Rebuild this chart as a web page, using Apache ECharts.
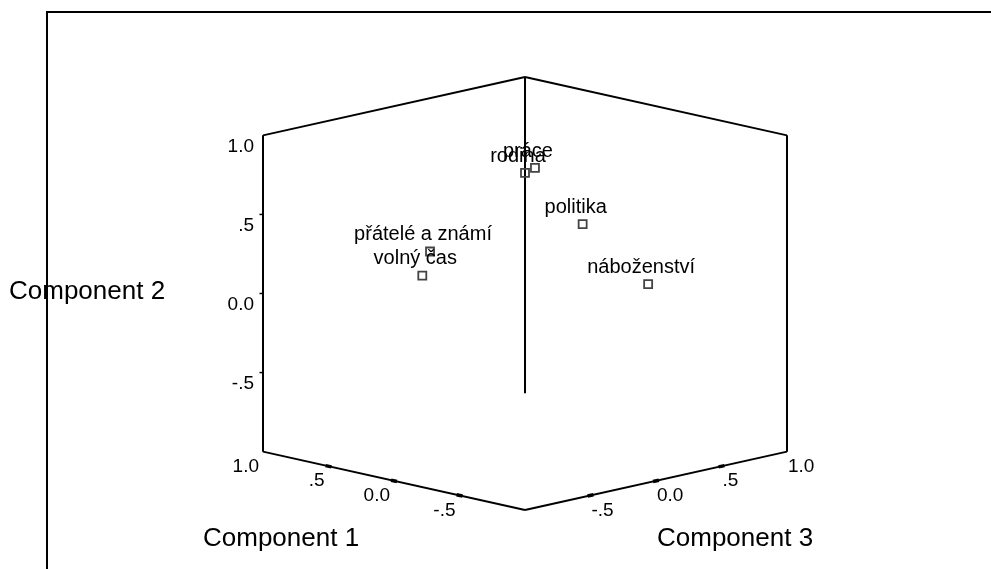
<!DOCTYPE html>
<html><head><meta charset="utf-8">
<style>html,body{margin:0;padding:0;background:#fff}#c{width:991px;height:569px}</style>
<script src="https://cdn.jsdelivr.net/npm/echarts@6/dist/echarts.min.js"></script>
</head><body><div id="c"></div>
<script>
// ---- data (component loadings) ----
const variables  = ['práce', 'rodina', 'přátelé a známí', 'volný čas', 'politika', 'náboženství'];
const component1 = [0.100, 0.150, 0.800, 0.800, 0.160, -0.090];
const component2 = [0.743, 0.707, 0.104, -0.037, 0.299, -0.081];
const component3 = [0.176, 0.150, 0.075, 0.016, 0.600, 0.850];

// ---- axes ----
const axisMin = -1, axisMax = 1;
const tickValues = [-0.5, 0, 0.5];
const c1LabelValues = [1.0, 0.5, 0.0, -0.5];
const c1LabelTexts  = ['1.0', '.5', '0.0', '-.5'];
const c2LabelValues = [1.0, 0.5, 0.0, -0.5];
const c2LabelTexts  = ['1.0', '.5', '0.0', '-.5'];
const c3LabelValues = [-0.5, 0.0, 0.5, 1.0];
const c3LabelTexts  = ['-.5', '0.0', '.5', '1.0'];
const axisTitles = ['Component 1', 'Component 2', 'Component 3'];

// ---- view (oblique projection of the 3-D cube onto the plane) ----
const TILT = 0.1845;
function proj(c1, c2, c3) { return [c3 - c1, c2 + TILT * (c1 + c3)]; }
const yExt = axisMax + TILT * 2 * axisMax;

const FONT = "'Liberation Sans', Arial, sans-serif";
const TITLE_FONT = "26px 'Liberation Sans', Arial, sans-serif";
const lo = axisMin, hi = axisMax;
const edges = [
  [[hi, lo, lo], [hi, hi, lo]],   // left vertical
  [[lo, lo, hi], [lo, hi, hi]],   // right vertical
  [[hi, lo, hi], [hi, hi, hi]],   // back vertical
  [[hi, hi, lo], [hi, hi, hi]],   // top left
  [[hi, hi, hi], [lo, hi, hi]],   // top right
  [[hi, lo, lo], [lo, lo, lo]],   // floor front left (component 1)
  [[lo, lo, lo], [lo, lo, hi]]    // floor front right (component 3)
];

const edgeData = edges.map(e => ({ coords: e.map(p => proj(p[0], p[1], p[2])) }));
const c1Ticks = tickValues.map(v => proj(v, lo, lo));
const c3Ticks = tickValues.map(v => proj(lo, lo, v));
const c2Ticks = tickValues.map(v => proj(hi, v, lo));

const c1Labels = c1LabelValues.map((v, i) => ({ name: c1LabelTexts[i], value: proj(v, lo, lo) }));
const c3Labels = c3LabelValues.map((v, i) => ({ name: c3LabelTexts[i], value: proj(lo, lo, v) }));
const c2Labels = c2LabelValues.map((v, i) => ({ name: c2LabelTexts[i], value: proj(hi, v, lo) }));

const points = variables.map((n, i) => ({ name: n, value: proj(component1[i], component2[i], component3[i]) }));

const tickLabelStyle = { show: true, formatter: '{b}', color: '#000', fontFamily: FONT, fontSize: 19, position: 'inside', verticalAlign: 'middle' };
const solid = { color: '#000', opacity: 1 };

const chart = echarts.init(document.getElementById('c'), null, { renderer: 'canvas' });
chart.setOption({
  animation: false,
  backgroundColor: '#fff',
  grid: { left: 263, right: 204, top: 77, bottom: 59 },
  xAxis: { type: 'value', min: -2 * axisMax, max: 2 * axisMax, show: false },
  yAxis: { type: 'value', min: -yExt, max: yExt, show: false },
  graphic: [
    { type: 'rect', shape: { x: 47, y: 12, width: 1000, height: 700 }, style: { fill: null, stroke: '#000', lineWidth: 2 }, silent: true },
    { type: 'text', left: 9, top: 279, style: { text: axisTitles[1], font: TITLE_FONT, fill: '#000' } },
    { type: 'text', left: 203, top: 526, style: { text: axisTitles[0], font: TITLE_FONT, fill: '#000' } },
    { type: 'text', left: 657, top: 526, style: { text: axisTitles[2], font: TITLE_FONT, fill: '#000' } }
  ],
  series: [
    { type: 'lines', coordinateSystem: 'cartesian2d', silent: true, z: 2,
      lineStyle: { color: '#000', width: 2, opacity: 1, curveness: 0 }, data: edgeData },
    { type: 'scatter', silent: true, z: 3, symbol: 'rect', symbolSize: [6, 3.5], symbolRotate: -12.5,
      itemStyle: solid, data: c1Ticks },
    { type: 'scatter', silent: true, z: 3, symbol: 'rect', symbolSize: [6, 3.5], symbolRotate: 12.5,
      itemStyle: solid, data: c3Ticks },
    { type: 'scatter', silent: true, z: 3, symbol: 'rect', symbolSize: [3, 1.5], symbolOffset: [-2, 0],
      itemStyle: solid, data: c2Ticks },
    { type: 'scatter', silent: true, symbolSize: 0, itemStyle: solid, data: c1Labels,
      label: Object.assign({}, tickLabelStyle, { align: 'right', offset: [-4, 15] }) },
    { type: 'scatter', silent: true, symbolSize: 0, itemStyle: solid, data: c3Labels,
      label: Object.assign({}, tickLabelStyle, { align: 'left', offset: [1, 15] }) },
    { type: 'scatter', silent: true, symbolSize: 0, itemStyle: solid, data: c2Labels,
      label: Object.assign({}, tickLabelStyle, { align: 'right', offset: [-9, 11] }) },
    { type: 'scatter', silent: true, z: 4, symbol: 'rect', symbolSize: 8, data: points,
      itemStyle: { color: 'rgba(0,0,0,0)', borderColor: '#444', borderWidth: 1.8, opacity: 1 },
      label: { show: true, formatter: '{b}', position: 'top', distance: 2, offset: [-7, 0],
               color: '#000', fontFamily: FONT, fontSize: 20 } }
  ]
});
</script>
</body></html>
